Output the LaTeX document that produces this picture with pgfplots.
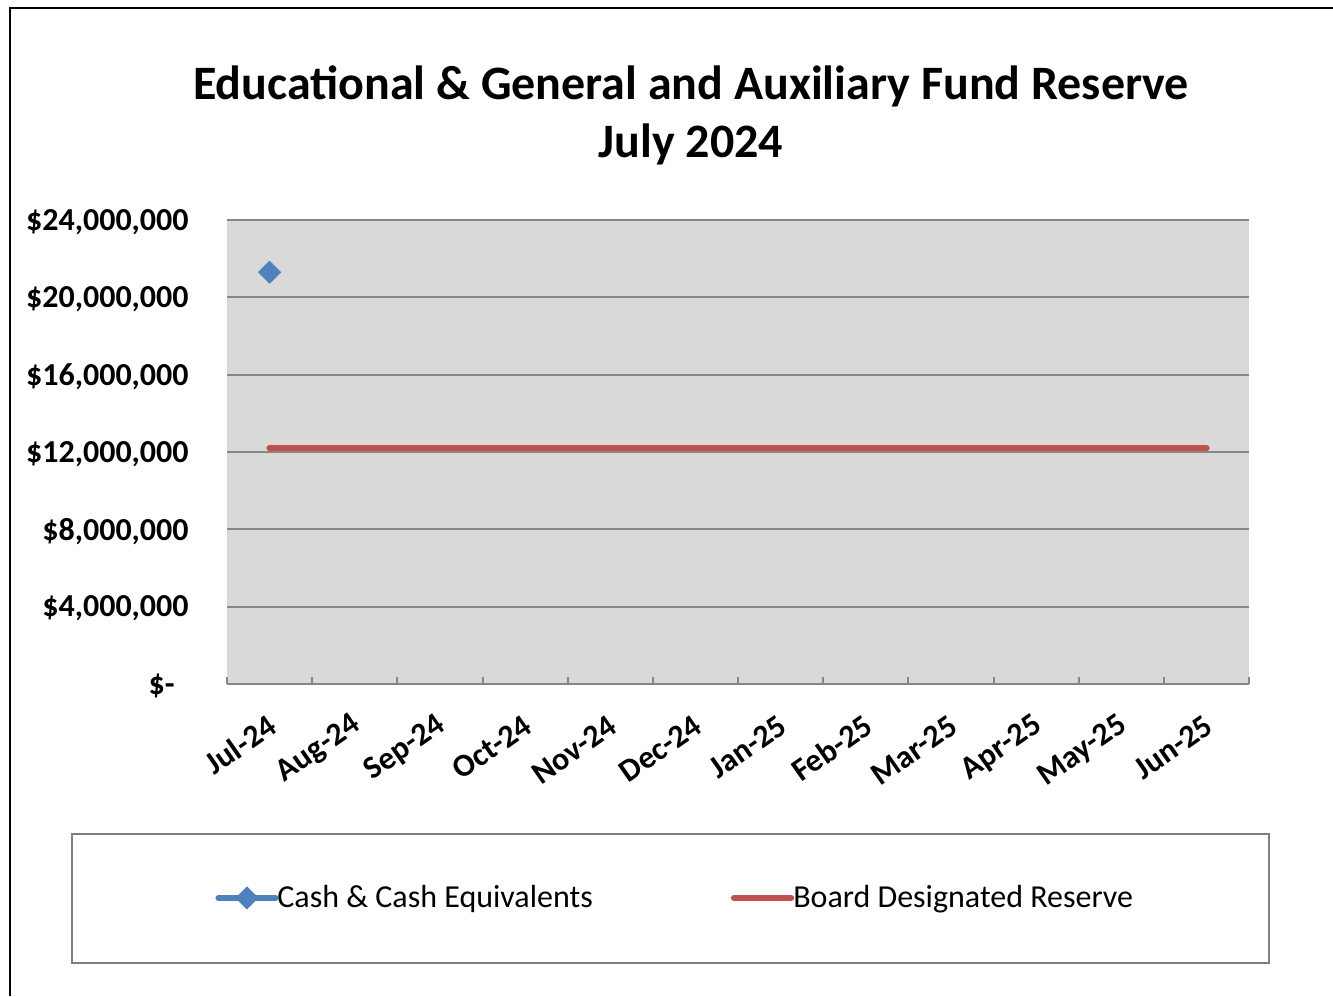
\documentclass[border=0pt]{standalone}
\usepackage{pgfplots}
\pgfplotsset{compat=1.18}
\usepackage{fontspec}
\setmainfont{Carlito}
\definecolor{cblue}{HTML}{4F81BD}
\definecolor{cred}{HTML}{C0504D}
\definecolor{plotbg}{HTML}{D9D9D9}
\definecolor{gridc}{HTML}{868686}
\definecolor{legb}{HTML}{7F7F7F}
\begin{document}
\begin{tikzpicture}
\draw[line width=1.25pt] (5pt,0pt) -- (5pt,494pt) -- (666.5pt,494pt);
\node[anchor=base, font=\bfseries\fontsize{24}{28}\selectfont] at (345.5pt,448pt) {Educational \& General and Auxiliary Fund Reserve};
\node[anchor=base, font=\bfseries\fontsize{24}{28}\selectfont] at (345.5pt,419pt) {July 2024};
\draw[color=legb, line width=1pt] (36pt,16.5pt) rectangle (634.5pt,81pt);
\begin{axis}[
  at={(113.5pt,156pt)}, anchor=south west,
  scale only axis, width=511pt, height=232pt,
  xmin=-0.5, xmax=11.5, ymin=0, ymax=24000000,
  scaled y ticks=false,
  axis background/.style={fill=plotbg},
  axis x line*=bottom, axis y line*=left,
  x axis line style={color=gridc, line width=1pt},
  y axis line style={draw=none},
  xtick={0,...,11},
  xticklabels={Jul-24,Aug-24,Sep-24,Oct-24,Nov-24,Dec-24,Jan-25,Feb-25,Mar-25,Apr-25,May-25,Jun-25},
  minor xtick={-0.5,0.5,...,11.5},
  major x tick style={draw=none},
  minor x tick style={color=gridc, line width=1pt},
  minor tick length=3.5pt,
  tick align=inside,
  ytick={0,4000000,8000000,12000000,16000000,20000000,24000000},
  yticklabels={{\$-\hspace*{7pt}},{\$4,000,000},{\$8,000,000},{\$12,000,000},{\$16,000,000},{\$20,000,000},{\$24,000,000}},
  ytick style={draw=none},
  ymajorgrids, major grid style={color=gridc, line width=1pt},
  yticklabel style={font=\bfseries\fontsize{16}{19}\selectfont, anchor=east, inner sep=0pt, xshift=-19pt, yshift=-1pt},
  xticklabel style={font=\bfseries\fontsize{16}{19}\selectfont, inner sep=0pt, xshift=1.5pt, yshift=-19pt, rotate=35, anchor=east},
  clip=false,
  legend columns=2,
  legend style={at={(axis description cs:-0.0117,-0.461)}, anchor=west, draw=none, fill=none, inner sep=0pt,
    font=\fontsize{16}{19}\selectfont,
    /tikz/every odd column/.append style={column sep=-2.5pt},
    /tikz/every even column/.append style={column sep=67pt}},
  legend image code/.code={\draw[mark repeat=2, mark phase=2, #1] plot coordinates {(0pt,0pt) (14.25pt,0pt) (28.5pt,0pt)};},
]
\addplot[color=cblue, line width=3pt, line cap=round, mark=square*, mark size=3.9pt, mark options={rotate=45, line width=0.4pt, solid, fill=cblue}] coordinates {(0,21300000)};
\addlegendentry{Cash \& Cash Equivalents}
\addplot[color=cred, line width=3.2pt, line cap=round, no markers] coordinates {(0,12200000) (1,12200000) (2,12200000) (3,12200000) (4,12200000) (5,12200000) (6,12200000) (7,12200000) (8,12200000) (9,12200000) (10,12200000) (11,12200000)};
\addlegendentry{Board Designated Reserve}
\end{axis}
\pgfresetboundingbox
\useasboundingbox (0,0) rectangle (666.5pt,498pt);
\end{tikzpicture}
\end{document}
